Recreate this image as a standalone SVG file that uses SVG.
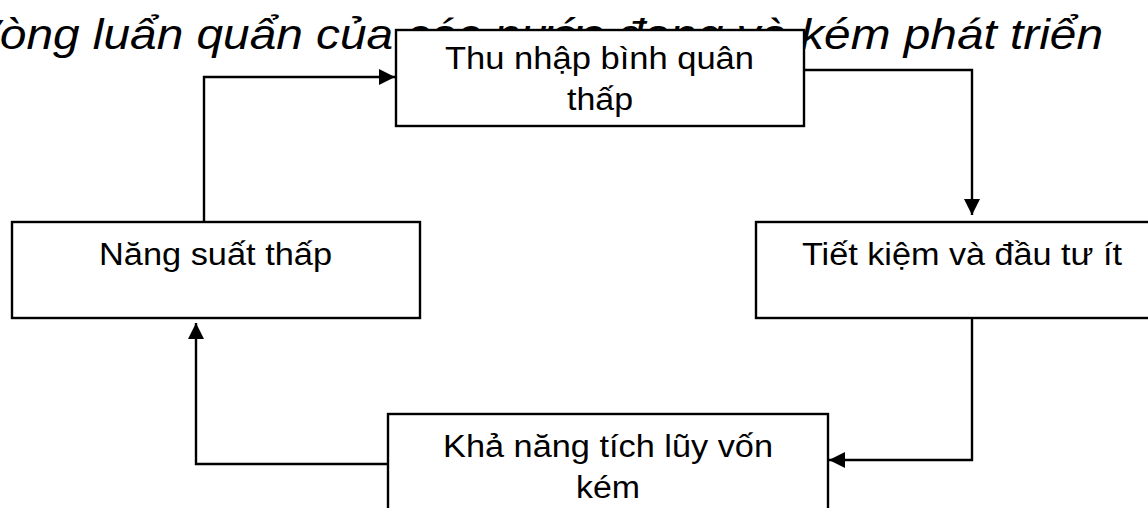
<svg xmlns="http://www.w3.org/2000/svg" width="1148" height="508" viewBox="0 0 1148 508">
<style>
.box{fill:#ffffff;stroke:#000000;stroke-width:2.4}
.lbl{font-family:"Liberation Sans",Arial,sans-serif;font-size:31px;fill:#000000}
.title{font-family:"Liberation Sans",Arial,sans-serif;font-size:43px;font-style:italic;fill:#000000}
.conn{fill:none;stroke:#000000;stroke-width:2.4}
</style>
<defs>
<marker id="arr" viewBox="0 0 16 16" refX="16" refY="8" markerWidth="16" markerHeight="16" markerUnits="userSpaceOnUse" orient="auto">
<path d="M0,0 L16,8 L0,16 Z" fill="#000000"/>
</marker>
</defs>
<rect width="1148" height="508" fill="#ffffff"/>
<text id="title" class="title" x="-32" y="49" textLength="1135" lengthAdjust="spacingAndGlyphs">Vòng luẩn quẩn của các nước đang và kém phát triển</text>
<g id="connectors">
<polyline class="conn" points="204,222 204,77 395,77" marker-end="url(#arr)"/>
<polyline class="conn" points="804,70 972,70 972,215" marker-end="url(#arr)"/>
<polyline class="conn" points="972,318 972,460 829,460" marker-end="url(#arr)"/>
<polyline class="conn" points="388,464 196,464 196,323" marker-end="url(#arr)"/>
</g>
<g id="node-thu-nhap">
<rect class="box" x="396" y="30" width="408" height="96"/>
<text class="lbl" x="445" y="69" textLength="309" lengthAdjust="spacingAndGlyphs">Thu nhập bình quân</text>
<text class="lbl" x="567" y="110" textLength="66" lengthAdjust="spacingAndGlyphs">thấp</text>
</g>
<g id="node-tiet-kiem">
<rect class="box" x="756" y="222" width="414" height="96"/>
<text class="lbl" x="802" y="265" textLength="320" lengthAdjust="spacingAndGlyphs">Tiết kiệm và đầu tư ít</text>
</g>
<g id="node-kha-nang">
<rect class="box" x="388" y="414" width="440" height="120"/>
<text class="lbl" x="443" y="457" textLength="330" lengthAdjust="spacingAndGlyphs">Khả năng tích lũy vốn</text>
<text class="lbl" x="576" y="498" textLength="64" lengthAdjust="spacingAndGlyphs">kém</text>
</g>
<g id="node-nang-suat">
<rect class="box" x="12" y="222" width="408" height="96"/>
<text class="lbl" x="99" y="265" textLength="233" lengthAdjust="spacingAndGlyphs">Năng suất thấp</text>
</g>
</svg>
